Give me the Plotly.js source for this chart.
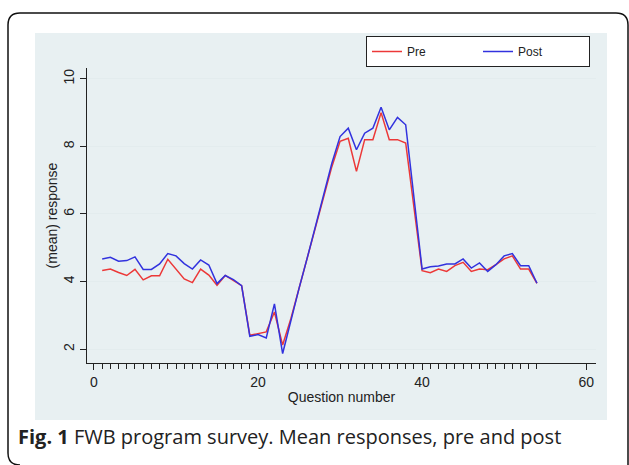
<!DOCTYPE html>
<html>
<head>
<meta charset="utf-8">
<script src="https://cdn.plot.ly/plotly-3.0.1.min.js"></script>
<style>
  html, body { margin: 0; padding: 0; background: #ffffff; }
  #chart { width: 629px; height: 465px; }
</style>
</head>
<body>
<div id="chart"></div>
<script>
// Question numbers
const questions = [];
for (let i = 1; i <= 54; i++) questions.push(i);

// Mean responses
const preMeans = [
  4.33, 4.37, 4.27, 4.18, 4.36, 4.05, 4.17, 4.17, 4.66, 4.36,
  4.08, 3.97, 4.37, 4.19, 3.89, 4.18, 4.04, 3.88, 2.41, 2.45,
  2.51, 3.10, 2.12, 2.90, 3.80, 4.65, 5.55, 6.50, 7.40, 8.15,
  8.24, 7.26, 8.20, 8.20, 9.00, 8.20, 8.20, 8.10, 6.20, 4.32,
  4.26, 4.37, 4.30, 4.47, 4.57, 4.30, 4.37, 4.35, 4.50, 4.67,
  4.76, 4.37, 4.37, 3.95
];
const postMeans = [
  4.67, 4.72, 4.60, 4.62, 4.73, 4.36, 4.36, 4.52, 4.83, 4.76,
  4.53, 4.37, 4.64, 4.49, 3.94, 4.18, 4.06, 3.88, 2.38, 2.43,
  2.33, 3.34, 1.87, 2.85, 3.80, 4.70, 5.65, 6.60, 7.50, 8.29,
  8.54, 7.90, 8.39, 8.54, 9.16, 8.49, 8.86, 8.64, 6.50, 4.37,
  4.44, 4.46, 4.52, 4.52, 4.67, 4.40, 4.55, 4.30, 4.50, 4.76,
  4.83, 4.47, 4.47, 3.95
];

const seriesNames = ["Pre", "Post"];
const xTickVals = [0, 20, 40, 60];
const yTickVals = [2, 4, 6, 8, 10];
const xTitle = "Question number";
const yTitle = "(mean) response";
const caption = "<b>Fig. 1</b> FWB program survey. Mean responses, pre and post";

// page geometry helpers (pixel -> paper)
const W = 629, H = 465;
const M = { l: 87, r: 33, t: 68, b: 102 };
const PW = W - M.l - M.r, PH = H - M.t - M.b;
const px = x => (x - M.l) / PW;
const py = y => (H - M.b - y) / PH;

const cardPath =
  `M${px(20)},${py(465)} Q${px(8)},${py(465)} ${px(8)},${py(453)} ` +
  `L${px(8)},${py(25)} Q${px(8)},${py(13)} ${px(20)},${py(13)} ` +
  `L${px(616)},${py(13)} Q${px(628)},${py(13)} ${px(628)},${py(25)} ` +
  `L${px(628)},${py(465)}`;

const axisFont = { family: "Liberation Sans Narrow, Liberation Sans, Arial, sans-serif", size: 14, color: "#222" };

const traces = [
  {
    x: questions, y: preMeans, name: seriesNames[0], type: "scatter", mode: "lines",
    line: { color: "rgb(236,56,56)", width: 1.5 }
  },
  {
    x: questions, y: postMeans, name: seriesNames[1], type: "scatter", mode: "lines",
    line: { color: "rgb(50,50,222)", width: 1.5 }
  }
];

const layout = {
  width: W, height: H,
  margin: M,
  paper_bgcolor: "#ffffff",
  plot_bgcolor: "#ffffff",
  font: axisFont,
  showlegend: true,
  legend: {
    orientation: "h",
    x: px(366), y: py(36), xanchor: "left", yanchor: "top",
    bgcolor: "#ffffff", bordercolor: "#222", borderwidth: 1,
    font: { family: "Liberation Sans Narrow, Liberation Sans, Arial, sans-serif", size: 12, color: "#222" },
    entrywidth: 66, entrywidthmode: "pixels",
    itemclick: false
  },
  xaxis: {
    range: [-0.85, 61.2],
    tickmode: "array", tickvals: xTickVals,
    ticks: "outside", ticklen: 6, tickwidth: 1, tickcolor: "#222",
    minor: { tickmode: "array", tickvals: [0].concat(questions), ticks: "outside", ticklen: 5, tickwidth: 1, tickcolor: "#222", showgrid: false },
    showline: true, linecolor: "#222", linewidth: 1,
    showgrid: false, zeroline: false,
    tickfont: { size: 14 },
    title: { text: xTitle, font: { size: 14 }, standoff: 3 }
  },
  yaxis: {
    range: [1.59, 10.32],
    tickmode: "array", tickvals: yTickVals,
    tickangle: -90,
    ticks: "outside", ticklen: 6, tickwidth: 1, tickcolor: "#222",
    showline: true, linecolor: "#222", linewidth: 1,
    showgrid: true, gridcolor: "#e3ecee", gridwidth: 1,
    zeroline: false,
    tickfont: { size: 14 },
    title: { text: yTitle, font: { size: 14 }, standoff: 0 }
  },
  shapes: [
    { type: "rect", xref: "paper", yref: "paper", layer: "below",
      x0: px(35), x1: px(607), y0: py(420), y1: py(33),
      fillcolor: "#e8f0f2", line: { width: 0 } },
    { type: "path", xref: "paper", yref: "paper", layer: "above",
      path: cardPath, line: { color: "#111", width: 1.5 } }
  ],
  annotations: [
    { xref: "paper", yref: "paper", x: px(16), y: py(436), xanchor: "left", yanchor: "middle",
      text: caption, showarrow: false,
      font: { family: "Open Sans, Noto Sans, sans-serif", size: 20, color: "#222" } }
  ]
};

Plotly.newPlot("chart", traces, layout, { displayModeBar: false, staticPlot: true });
</script>
</body>
</html>
